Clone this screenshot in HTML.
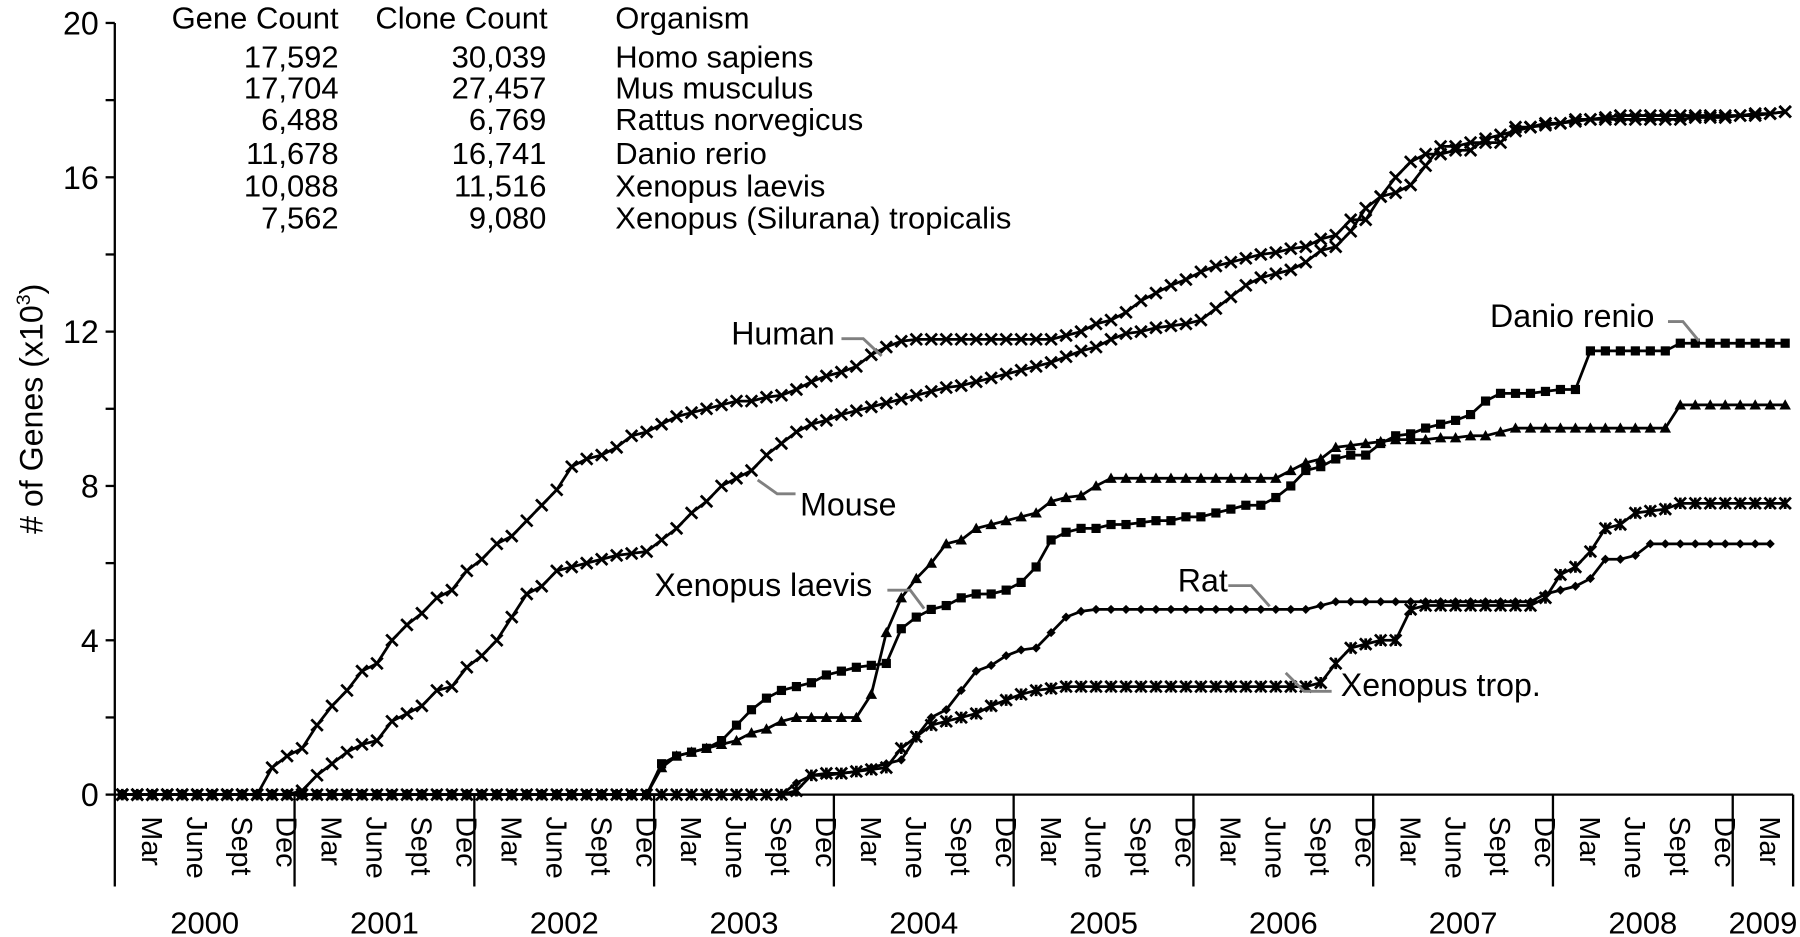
<!DOCTYPE html>
<html><head><meta charset="utf-8"><style>
html,body{margin:0;padding:0;background:#fff;}
svg{display:block;font-family:"Liberation Sans",Arial,sans-serif;}
</style></head><body>
<svg id="chart" width="1800" height="937" viewBox="0 0 1568 816" preserveAspectRatio="none" xmlns="http://www.w3.org/2000/svg">
<g id="table" font-size="27" fill="#000">
<text x="295" y="25" text-anchor="end">Gene Count</text>
<text x="477" y="25" text-anchor="end">Clone Count</text>
<text x="536" y="25">Organism</text>
</g>
<g id="axes"></g>
<g id="series"></g>
<g id="labels"></g>
</svg>
<script>
const geneCounts=["17,592","17,704","6,488","11,678","10,088","7,562"];
const cloneCounts=["30,039","27,457","6,769","16,741","11,516","9,080"];
const organisms=["Homo sapiens","Mus musculus","Rattus norvegicus","Danio rerio","Xenopus laevis","Xenopus (Silurana) tropicalis"];
const yTicks=[0,4,8,12,16,20];
const years=["2000","2001","2002","2003","2004","2005","2006","2007","2008","2009"];
const monthNames=["Mar","June","Sept","Dec"];
const monthIdx=[2,5,8,11];
const human=[0,0,0,0,0,0,0,0,0,0,0.7,1.0,1.2,1.8,2.3,2.7,3.2,3.4,4.0,4.4,4.7,5.1,5.3,5.8,6.1,6.5,6.7,7.1,7.5,7.9,8.5,8.7,8.8,9.0,9.3,9.4,9.6,9.8,9.9,10.0,10.1,10.2,10.2,10.3,10.35,10.5,10.7,10.85,10.95,11.1,11.4,11.6,11.75,11.8,11.8,11.8,11.8,11.8,11.8,11.8,11.8,11.8,11.8,11.9,12.0,12.2,12.3,12.5,12.8,13.0,13.2,13.35,13.55,13.7,13.8,13.9,14.0,14.05,14.15,14.2,14.4,14.5,14.9,14.9,15.5,15.6,15.8,16.3,16.8,16.8,16.9,16.9,16.9,17.3,17.3,17.35,17.4,17.5,17.5,17.55,17.6,17.6,17.6,17.6,17.6,17.6,17.6,17.6,17.6,17.65,17.65,17.7];
const mouse=[0,0,0,0,0,0,0,0,0,0,0,0,0.1,0.5,0.8,1.1,1.3,1.4,1.9,2.1,2.3,2.7,2.8,3.3,3.6,4.0,4.6,5.2,5.4,5.8,5.9,6.0,6.1,6.2,6.25,6.3,6.6,6.9,7.3,7.6,8.0,8.2,8.4,8.8,9.1,9.4,9.6,9.7,9.85,9.95,10.05,10.15,10.25,10.35,10.45,10.55,10.6,10.7,10.8,10.9,11.0,11.1,11.2,11.35,11.5,11.6,11.8,11.95,12.0,12.1,12.15,12.2,12.3,12.6,12.9,13.2,13.4,13.5,13.6,13.8,14.1,14.2,14.6,15.2,15.5,16.0,16.4,16.6,16.6,16.7,16.7,17.0,17.1,17.2,17.3,17.4,17.4,17.45,17.5,17.5,17.5,17.5,17.5,17.5,17.5,17.55,17.55,17.55,17.6,17.6,17.65,17.7];
const danio=[0,0,0,0,0,0,0,0,0,0,0,0,0,0,0,0,0,0,0,0,0,0,0,0,0,0,0,0,0,0,0,0,0,0,0,0,0.8,1.0,1.1,1.2,1.4,1.8,2.2,2.5,2.7,2.8,2.9,3.1,3.2,3.3,3.35,3.4,4.3,4.6,4.8,4.9,5.1,5.2,5.2,5.3,5.5,5.9,6.6,6.8,6.9,6.9,7.0,7.0,7.05,7.1,7.1,7.2,7.2,7.3,7.4,7.5,7.5,7.7,8.0,8.4,8.5,8.7,8.8,8.8,9.1,9.3,9.35,9.5,9.6,9.7,9.85,10.2,10.4,10.4,10.4,10.45,10.5,10.5,11.5,11.5,11.5,11.5,11.5,11.5,11.7,11.7,11.7,11.7,11.7,11.7,11.7,11.7];
const laevis=[0,0,0,0,0,0,0,0,0,0,0,0,0,0,0,0,0,0,0,0,0,0,0,0,0,0,0,0,0,0,0,0,0,0,0,0,0.7,1.0,1.1,1.2,1.3,1.4,1.6,1.7,1.9,2.0,2.0,2.0,2.0,2.0,2.6,4.2,5.1,5.6,6.0,6.5,6.6,6.9,7.0,7.1,7.2,7.3,7.6,7.7,7.75,8.0,8.2,8.2,8.2,8.2,8.2,8.2,8.2,8.2,8.2,8.2,8.2,8.2,8.4,8.6,8.7,9.0,9.05,9.1,9.15,9.2,9.2,9.2,9.25,9.25,9.3,9.3,9.4,9.5,9.5,9.5,9.5,9.5,9.5,9.5,9.5,9.5,9.5,9.5,10.1,10.1,10.1,10.1,10.1,10.1,10.1,10.1];
const rat=[0,0,0,0,0,0,0,0,0,0,0,0,0,0,0,0,0,0,0,0,0,0,0,0,0,0,0,0,0,0,0,0,0,0,0,0,0,0,0,0,0,0,0,0,0,0.3,0.5,0.5,0.55,0.6,0.7,0.8,0.9,1.5,2.0,2.2,2.7,3.2,3.35,3.6,3.75,3.8,4.2,4.6,4.75,4.8,4.8,4.8,4.8,4.8,4.8,4.8,4.8,4.8,4.8,4.8,4.8,4.8,4.8,4.8,4.9,5.0,5.0,5.0,5.0,5.0,5.0,5.0,5.0,5.0,5.0,5.0,5.0,5.0,5.0,5.2,5.3,5.4,5.6,6.1,6.1,6.2,6.5,6.5,6.5,6.5,6.5,6.5,6.5,6.5,6.5];
const trop=[0,0,0,0,0,0,0,0,0,0,0,0,0,0,0,0,0,0,0,0,0,0,0,0,0,0,0,0,0,0,0,0,0,0,0,0,0,0,0,0,0,0,0,0,0,0.1,0.5,0.55,0.55,0.6,0.65,0.7,1.2,1.5,1.8,1.9,2.0,2.1,2.3,2.45,2.6,2.7,2.75,2.8,2.8,2.8,2.8,2.8,2.8,2.8,2.8,2.8,2.8,2.8,2.8,2.8,2.8,2.8,2.8,2.8,2.9,3.4,3.8,3.9,4.0,4.0,4.8,4.9,4.9,4.9,4.9,4.9,4.9,4.9,4.9,5.1,5.7,5.9,6.3,6.9,7.0,7.3,7.35,7.4,7.55,7.55,7.55,7.55,7.55,7.55,7.55,7.55];

const NS="http://www.w3.org/2000/svg";
const X0=100,XR=1562,Y0=692,YT=20,YMAX=20,MW=13.05;
const xs=i=>X0+(i+0.5)*MW;
const ys=v=>Y0-(v/YMAX)*(Y0-YT);
function mk(tag,attrs,parent){const e=document.createElementNS(NS,tag);for(const k in attrs)e.setAttribute(k,attrs[k]);parent.appendChild(e);return e;}

const tbl=document.getElementById('table');
const rowY=[59,86,113,143,171,199];
for(let r=0;r<organisms.length;r++){
  let t=mk('text',{x:295,y:rowY[r],'text-anchor':'end'},tbl);t.textContent=geneCounts[r];
  
  
  t=mk('text',{x:476,y:rowY[r],'text-anchor':'end'},tbl);t.textContent=cloneCounts[r];
  
  
  t=mk('text',{x:536,y:rowY[r]},tbl);t.textContent=organisms[r];
  
  
}

const ax=document.getElementById('axes');
let l=mk('line',{x1:X0,y1:YT,x2:X0,y2:772,stroke:'#000','stroke-width':2},ax);


l=mk('line',{x1:X0,y1:Y0,x2:XR,y2:Y0,stroke:'#000','stroke-width':2},ax);


l=mk('line',{x1:XR,y1:Y0,x2:XR,y2:772,stroke:'#000','stroke-width':2},ax);


for(let v=0;v<=YMAX;v+=2){
  const t=mk('line',{x1:X0-8,y1:ys(v),x2:X0,y2:ys(v),stroke:'#000','stroke-width':2},ax);
  
  
}
yTicks.forEach(v=>{
  const t=mk('text',{x:X0-14,y:ys(v)+10,'text-anchor':'end','font-size':28},ax);t.textContent=v;
  
  
});
const yt=mk('text',{transform:'translate(37,356) rotate(-90)','text-anchor':'middle','font-size':28},ax);
yt.innerHTML='# of Genes (x10<tspan font-size="17" dy="-11">3</tspan><tspan dy="11">)</tspan>';


years.forEach((yr,k)=>{
  const bx=X0+k*12*MW;
  if(k>0){const b=mk('line',{x1:bx,y1:Y0,x2:bx,y2:772,stroke:'#000','stroke-width':2},ax);
    
    }
  const end=Math.min(XR,bx+12*MW);
  const t=mk('text',{x:(bx+end)/2,y:813,'text-anchor':'middle','font-size':27},ax);t.textContent=yr;
  
  
  monthIdx.forEach((m,j)=>{
    const mi=k*12+m; if(mi>=112)return;
    const mx=X0+(mi+0.5)*MW-9;
    const mt=mk('text',{transform:`translate(${mx},711) rotate(90)`,'font-size':25},ax);mt.textContent=monthNames[j];
    
    
  });
});

const sg=document.getElementById('series');
function marker(type,x,y,g){
  if(type==='x'){mk('path',{d:`M${x-5},${y-5}L${x+5},${y+5}M${x-5},${y+5}L${x+5},${y-5}`,stroke:'#000','stroke-width':2.4,fill:'none'},g);}
  else if(type==='star'){mk('path',{d:`M${x-5},${y-5}L${x+5},${y+5}M${x-5},${y+5}L${x+5},${y-5}M${x},${y-5}L${x},${y+5}`,stroke:'#000','stroke-width':2.4,fill:'none'},g);}
  else if(type==='sq'){mk('rect',{x:x-4,y:y-4,width:8,height:8,fill:'#000'},g);}
  else if(type==='tri'){mk('path',{d:`M${x},${y-5}L${x+5},${y+4}L${x-5},${y+4}Z`,fill:'#000'},g);}
  else if(type==='dia'){mk('path',{d:`M${x},${y-4}L${x+4},${y}L${x},${y+4}L${x-4},${y}Z`,fill:'#000'},g);}
}
const seriesList=[[human,'x','human-series'],[mouse,'x','mouse-series'],[danio,'sq','danio-series'],[laevis,'tri','xenopus-laevis-series'],[rat,'dia','rat-series'],[trop,'star','xenopus-trop-series']];
seriesList.forEach(([d,t,n])=>{
  const g=mk('g',{},sg);
  
  
  const p=mk('polyline',{points:d.map((v,i)=>xs(i)+','+ys(v)).join(' '),fill:'none',stroke:'#000','stroke-width':2.4},g);
  
  
  d.forEach((v,i)=>marker(t,xs(i),ys(v),g));
});

const lg=document.getElementById('labels');
const labs=[["Human",637,300,"733,295 752,295 768,310"],["Mouse",697,449,"660,418 677,430 693,430"],["Danio renio",1298,285,"1453,280 1466,280 1480,297"],["Xenopus laevis",570,519,"773,514 793,514 805,530"],["Rat",1026,515,"1070,510 1090,510 1106,528"],["Xenopus trop.",1168,606,"1120,586 1136,602 1160,602"]];
labs.forEach(([s,x,y,pts])=>{
  const t=mk('text',{x:x,y:y,'font-size':28},lg);t.textContent=s;
  
  
  const p=mk('polyline',{points:pts,fill:'none',stroke:'#808080','stroke-width':2.5},lg);
  
  
});
</script>
</body></html>
